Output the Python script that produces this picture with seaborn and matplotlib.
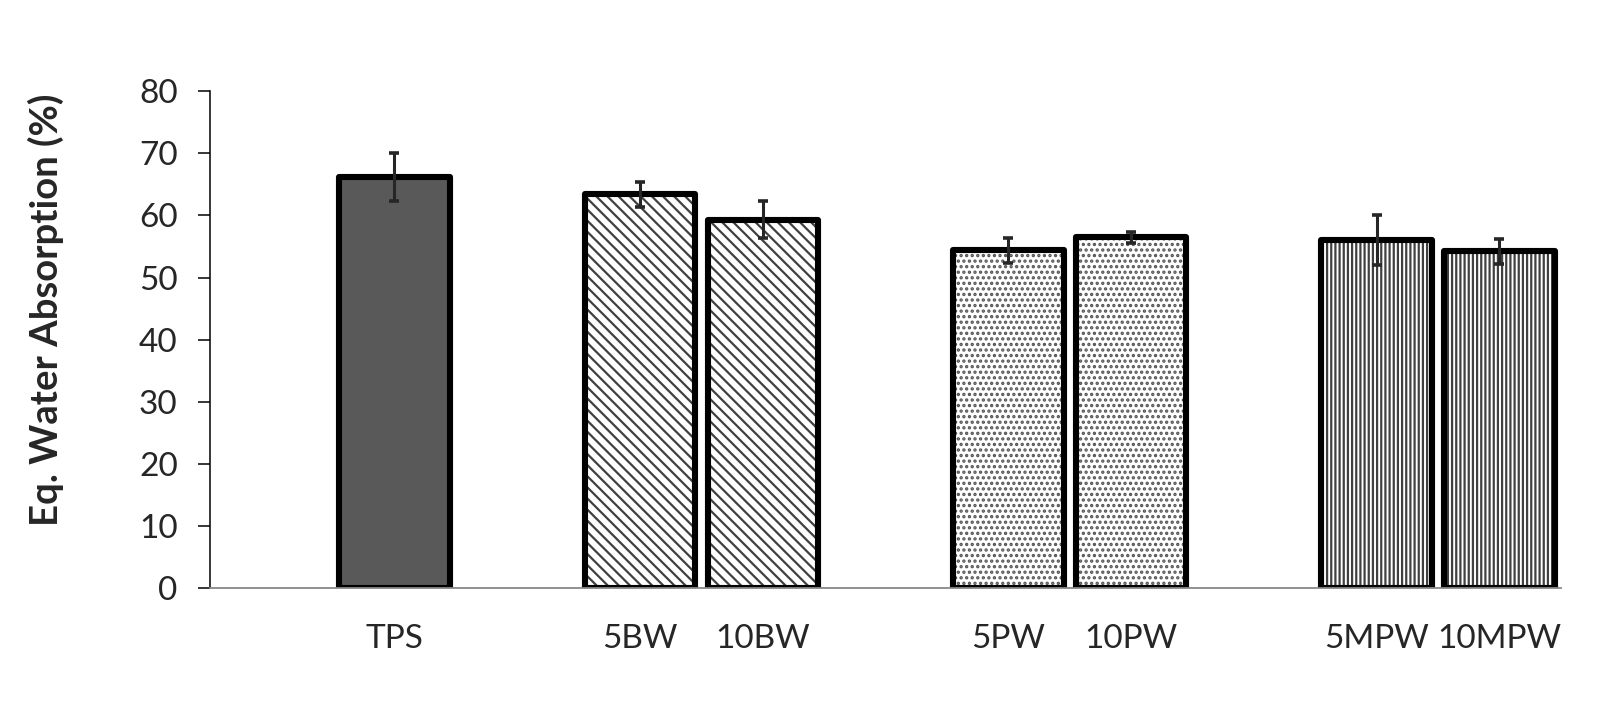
import matplotlib
matplotlib.use("Agg")
import matplotlib.pyplot as plt
import seaborn as sns
import pandas as pd

# data
samples = ["TPS", "5BW", "10BW", "5PW", "10PW", "5MPW", "10MPW"]
absorption = [66.2, 63.4, 59.3, 54.4, 56.5, 56.1, 54.2]
std_dev = [3.9, 2.0, 3.0, 2.0, 0.9, 4.0, 2.0]
# empty slots between groups, as in the original excel chart
slot_order = [" ", "TPS", "  ", "5BW", "10BW", "   ", "5PW", "10PW", "    ", "5MPW", "10MPW"]
fills = {"TPS": "#595959", "5BW": "white", "10BW": "white", "5PW": "white",
         "10PW": "white", "5MPW": "white", "10MPW": "white"}
hatches = {"TPS": "", "5BW": "\\\\\\", "10BW": "\\\\\\", "5PW": "...",
           "10PW": "...", "5MPW": "||||", "10MPW": "||||"}

df = pd.DataFrame({"sample": samples, "wa": absorption, "sd": std_dev})

sns.set_style("white")
plt.rcParams["font.family"] = ["Lato", "DejaVu Sans"]
plt.rcParams["hatch.linewidth"] = 1.6

fig = plt.figure(figsize=(15.98, 7.17), dpi=100)
ax = fig.add_axes([0.1316, 0.1799, 0.8451, 0.6928])

# layer 1: fill + hatch (gray hatch lines)
sns.barplot(data=df, x="sample", y="wa", order=slot_order, errorbar=None,
            width=0.9, color="white", edgecolor="#404040", linewidth=0, ax=ax)
for p in ax.patches:
    idx = int(round(p.get_x() + p.get_width() / 2))
    name = slot_order[idx]
    p.set_facecolor(fills[name])
    p.set_hatch(hatches[name])
    if name in ("5PW", "10PW"):
        p.set_edgecolor("#555555")
n_first = len(ax.patches)

# layer 2: thick black outline
sns.barplot(data=df, x="sample", y="wa", order=slot_order, errorbar=None,
            width=0.9, fill=False, edgecolor="black", linewidth=4.4, ax=ax)
for p in ax.patches[n_first:]:
    p.set_joinstyle("round")

xpos = [slot_order.index(s) for s in samples]
ax.errorbar(xpos, absorption, yerr=std_dev, fmt="none", ecolor="#262626",
            elinewidth=2.2, capsize=3.4, capthick=2.6, zorder=5)

ax.set_xlim(-0.5, 10.5)
ax.set_ylim(0, 80)
ax.set_yticks(range(0, 81, 10))
ax.set_xticks(xpos)
ax.set_xticklabels(samples)
ax.tick_params(axis="y", direction="out", length=8.5, width=1.1, color="black",
               labelsize=24, pad=15, left=True)
ax.tick_params(axis="x", length=0, labelsize=24, pad=26)

ax.set_xlabel("")
ax.set_ylabel("Eq. Water Absorption (%)", fontsize=27.5, fontweight="bold")
ax.yaxis.set_label_coords(-0.108, 0.56)

sns.despine(ax=ax, top=True, right=True)
ax.spines["left"].set_color("black")
ax.spines["left"].set_linewidth(1.1)
ax.spines["bottom"].set_color("#888888")
ax.spines["bottom"].set_linewidth(1.3)

fig.savefig("out.png", dpi=100)
